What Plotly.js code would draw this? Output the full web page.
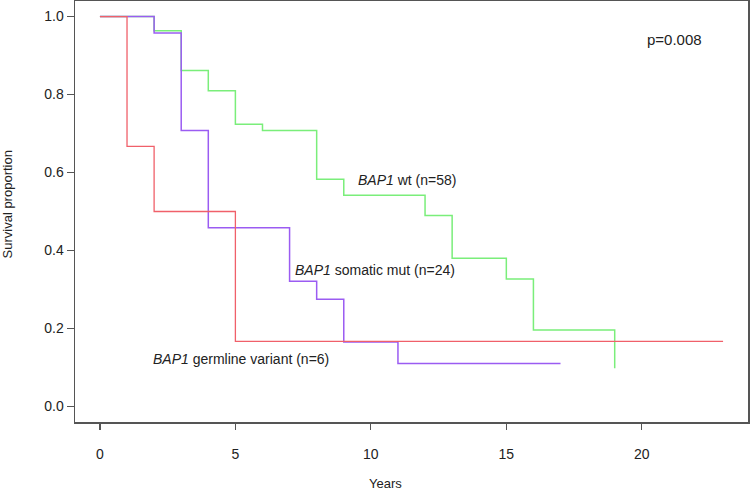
<!DOCTYPE html>
<html>
<head>
<meta charset="utf-8">
<script src="https://cdn.plot.ly/plotly-3.0.1.min.js"></script>
<style>html,body{margin:0;padding:0;background:#fff;}#chart{width:750px;height:491px;}</style>
</head>
<body>
<div id="chart"></div>
<script>
// Kaplan-Meier step data
const wtYears = [0, 2, 3, 4, 5, 6, 8, 9, 12, 13, 15, 16, 19];
const wtSurv  = [1, 0.964, 0.862, 0.81, 0.724, 0.708, 0.583, 0.542, 0.49, 0.38, 0.327, 0.196, 0.098];

const somaticYears = [0, 2, 3, 4, 7, 8, 9, 11, 17];
const somaticSurv  = [1, 0.958, 0.708, 0.458, 0.321, 0.275, 0.165, 0.11, 0.11];

const germlineYears = [0, 1, 2, 5, 23];
const germlineSurv  = [1, 0.667, 0.5, 0.167, 0.167];

const xTicks = [0, 5, 10, 15, 20];
const yTicks = [0.0, 0.2, 0.4, 0.6, 0.8, 1.0];
const yTickLabels = ['0.0', '0.2', '0.4', '0.6', '0.8', '1.0'];

const FONT = 'Liberation Sans, Arial, sans-serif';
const TXT = '#222222';

const traces = [
  {x: wtYears, y: wtSurv, mode: 'lines', line: {shape: 'hv', color: '#7aee7a', width: 1.5}, name: 'BAP1 wt'},
  {x: somaticYears, y: somaticSurv, mode: 'lines', line: {shape: 'hv', color: '#9b5cf2', width: 1.5}, name: 'BAP1 somatic mut'},
  {x: germlineYears, y: germlineSurv, mode: 'lines', line: {shape: 'hv', color: '#f0606a', width: 1.3}, name: 'BAP1 germline variant'}
];

const layout = {
  width: 750, height: 491,
  margin: {l: 75, r: 2, t: 1, b: 69},
  paper_bgcolor: '#fff', plot_bgcolor: '#fff',
  showlegend: false,
  font: {family: FONT, color: TXT, size: 14},
  xaxis: {
    range: [-0.92, 23.92], tickvals: xTicks, ticktext: xTicks.map(String),
    ticks: 'outside', ticklen: 6, tickwidth: 1.2, tickcolor: '#555',
    showline: true, mirror: true, linecolor: '#555', linewidth: 1.5,
    showgrid: false, zeroline: false, ticklabelstandoff: 13,
    tickfont: {family: FONT, size: 14, color: TXT}
  },
  yaxis: {
    range: [-0.04, 1.04], tickvals: yTicks, ticktext: yTickLabels,
    ticks: 'outside', ticklen: 7, tickwidth: 1.2, tickcolor: '#555',
    showline: true, mirror: true, linecolor: '#555', linewidth: 1.5,
    showgrid: false, zeroline: false,
    tickfont: {family: FONT, size: 14, color: TXT}
  },
  annotations: [
    {x: 9.45, y: 0.581, xref: 'x', yref: 'y', xanchor: 'left', yanchor: 'middle', showarrow: false,
     text: '<i>BAP1</i> wt (n=58)', font: {family: FONT, size: 14, color: TXT}},
    {x: 7.14, y: 0.35, xref: 'x', yref: 'y', xanchor: 'left', yanchor: 'middle', showarrow: false,
     text: '<i>BAP1</i> somatic mut (n=24)', font: {family: FONT, size: 14, color: TXT}},
    {x: 1.87, y: 0.122, xref: 'x', yref: 'y', xanchor: 'left', yanchor: 'middle', showarrow: false,
     text: '<i>BAP1</i> germline variant (n=6)', font: {family: FONT, size: 14, color: TXT}},
    {x: 20.1, y: 0.94, xref: 'x', yref: 'y', xanchor: 'left', yanchor: 'middle', showarrow: false,
     text: 'p=0.008', font: {family: FONT, size: 15, color: TXT}},
    {x: 0.462, y: -0.145, xref: 'paper', yref: 'paper', xanchor: 'center', yanchor: 'middle', showarrow: false,
     text: 'Years', font: {family: FONT, size: 13, color: TXT}},
    {x: -0.1, y: 0.516, xref: 'paper', yref: 'paper', xanchor: 'center', yanchor: 'middle', showarrow: false,
     textangle: -90, text: 'Survival proportion', font: {family: FONT, size: 13, color: TXT}}
  ]
};

Plotly.newPlot('chart', traces, layout, {staticPlot: true, displayModeBar: false});
</script>
</body>
</html>
